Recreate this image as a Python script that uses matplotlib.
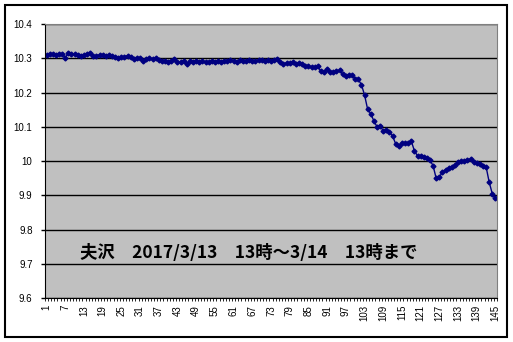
import matplotlib
matplotlib.use('Agg')
import matplotlib.pyplot as plt
import matplotlib.patches as patches
import numpy as np

plt.rcParams['font.family'] = ['Liberation Sans', 'DejaVu Sans']

# readings, one per sample (1..145)
values = [
    10.310, 10.312, 10.311, 10.310, 10.312, 10.313, 10.302, 10.315, 10.313, 10.312,
    10.310, 10.307, 10.310, 10.313, 10.316, 10.306, 10.308, 10.310, 10.309, 10.308,
    10.309, 10.306, 10.304, 10.300, 10.303, 10.305, 10.308, 10.303, 10.297, 10.302,
    10.300, 10.292, 10.297, 10.300, 10.298, 10.301, 10.294, 10.291, 10.293, 10.289,
    10.293, 10.297, 10.290, 10.288, 10.293, 10.283, 10.292, 10.290, 10.293, 10.289,
    10.291, 10.288, 10.290, 10.293, 10.290, 10.292, 10.289, 10.293, 10.291, 10.295,
    10.292, 10.290, 10.295, 10.292, 10.293, 10.296, 10.293, 10.292, 10.295, 10.294,
    10.293, 10.296, 10.293, 10.295, 10.297, 10.290, 10.283, 10.287, 10.285, 10.288,
    10.284, 10.286, 10.282, 10.277, 10.276, 10.275, 10.274, 10.276, 10.262, 10.260,
    10.268, 10.261, 10.261, 10.262, 10.265, 10.253, 10.248, 10.252, 10.251, 10.240,
    10.238, 10.223, 10.193, 10.151, 10.138, 10.117, 10.100, 10.103, 10.088, 10.090,
    10.084, 10.073, 10.050, 10.045, 10.053, 10.053, 10.053, 10.058, 10.030, 10.015,
    10.015, 10.013, 10.010, 10.003, 9.986, 9.949, 9.952, 9.969, 9.974, 9.979,
    9.983, 9.988, 9.996, 10.001, 10.001, 10.003, 10.006, 9.998, 9.993, 9.990,
    9.986, 9.983, 9.938, 9.904, 9.891,
]
idx = np.arange(1, len(values) + 1)
y_ticks = [9.6, 9.7, 9.8, 9.9, 10.0, 10.1, 10.2, 10.3, 10.4]
y_labels = ['9.6', '9.7', '9.8', '9.9', '10', '10.1', '10.2', '10.3', '10.4']
x_ticks = list(range(1, 146, 6))
note = '夫沢　2017/3/13　13時～3/14　13時まで'

W, H = 513, 342
fig = plt.figure(figsize=(W / 100, H / 100), dpi=100)
ax = fig.add_axes([45 / W, (H - 298) / H, 452 / W, 274 / H])
ax.set_facecolor('#C0C0C0')

ax.plot(idx, values, color='#000080', lw=1, marker='D', ms=2.5, mec='#000080', mfc='#000080')

ax.set_xlim(0.5, len(values) + 0.5)
ax.set_ylim(9.6, 10.4)
ax.set_yticks(y_ticks)
ax.set_yticklabels(y_labels, fontsize=7)
ax.yaxis.grid(True, color='black', lw=1)
ax.set_axisbelow(True)
ax.set_xticks(x_ticks)
ax.set_xticklabels([str(t) for t in x_ticks], rotation=90, fontsize=7)
ax.set_xticks(np.arange(0.5, len(values) + 1, 1), minor=True)
ax.tick_params(axis='x', which='major', length=0, pad=5)
ax.tick_params(axis='x', which='minor', length=2, width=0.6, direction='out')
ax.tick_params(axis='y', length=3, width=1, pad=6)

for s in ['top', 'right']:
    ax.spines[s].set_color('#808080')
for s in ['left', 'bottom']:
    ax.spines[s].set_color('black')

ax.text(80 / W, (H - 253) / H, note, transform=fig.transFigure, fontsize=12.5, fontweight='bold',
        va='center', ha='left', family=['Noto Sans CJK JP', 'DejaVu Sans'])

fig.add_artist(patches.Rectangle((5 / W, 5 / H), 502 / W, 332 / H, transform=fig.transFigure,
                                 fill=False, ec='black', lw=1.5))

fig.savefig('out.png', dpi=100)
